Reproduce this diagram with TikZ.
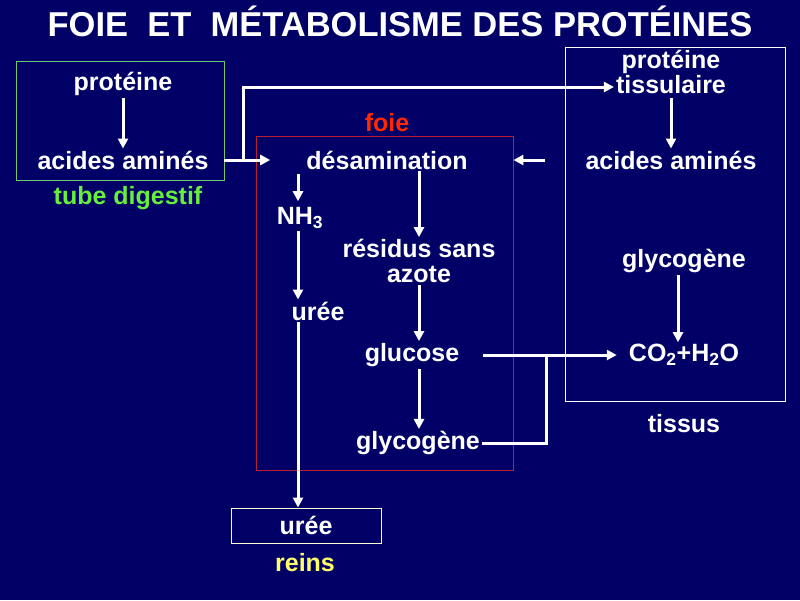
\documentclass[tikz,border=0pt]{standalone}
\usepackage{fontspec}
\setmainfont{Liberation Sans}
\usetikzlibrary{arrows.meta,calc}
\definecolor{bgc}{RGB}{0,0,102}
\definecolor{gtext}{RGB}{102,240,60}
\definecolor{gbox}{RGB}{110,200,110}
\definecolor{rtext}{RGB}{255,40,0}
\definecolor{rbox}{RGB}{190,30,50}
\definecolor{ytext}{RGB}{255,255,102}
\definecolor{ybox}{RGB}{255,255,210}
\tikzset{
  txt/.style={text=white,font=\fontsize{25}{27}\selectfont\bfseries,inner sep=2pt,align=center},
  arr/.style={draw=white,line width=3pt,-{Triangle[length=10pt,width=10pt]}},
  plain/.style={draw=white,line width=3pt},
  region/.style={line width=0.9pt,inner sep=0pt}
}
\begin{document}
\begin{tikzpicture}[x=1pt,y=-1pt]
\fill[bgc] (0,0) rectangle (800,600);
\useasboundingbox (0,0) rectangle (800,600);
% title
\node[text=white,font=\fontsize{34.5}{36}\selectfont\bfseries] (title) at (400,21) {FOIE\ \ ET\ \ MÉTABOLISME DES PROTÉINES};
% region boxes
\node[region,draw=gbox,minimum width=208pt,minimum height=119pt] (gut) at (120,120.5) {};
\node[region,draw=rbox,minimum width=257pt,minimum height=334pt] (liver) at (384.5,303) {};
\node[region,draw=white,minimum width=220pt,minimum height=354pt] (tissue) at (675,224) {};
% labels of regions
\node[txt,text=gtext] (lgut) at (128,198) {tube digestif};
\node[txt,text=rtext] (lliver) at (387,123) {foie};
\node[txt] (ltis) at (684,424) {tissus};
\node[txt,text=ytext] (lkid) at (305,563) {reins};
% gut
\node[txt] (prot1) at (123,84) {protéine};
\node[txt] (aa1) at (123,160) {acides aminés};
% liver
\node[txt] (deam) at (387,160) {désamination};
\node[txt] (nh3) at (300,218) {NH\textsubscript{3}};
\node[txt] (uree1) at (318,311) {urée};
\node[txt,text depth=0pt] (resid) at (419,261) {résidus sans\\[-2pt]azote};
\node[txt] (gluc) at (412,355) {glucose};
\node[txt] (glyc1) at (418,443) {glycogène};
% tissue
\node[txt,align=center] (prot2) at (671,72) {protéine\\[-2pt]tissulaire};
\node[txt] (aa2) at (671,160) {acides aminés};
\node[txt] (glyc2) at (684,261) {glycogène};
\node[txt] (co2) at (684,355) {CO\textsubscript{2}+H\textsubscript{2}O};
% kidney
\node[txt,draw=ybox,line width=0.9pt,minimum width=150pt,minimum height=35pt] (uree2) at (306,525.5) {urée};
% coordinates
\coordinate (br) at (243,160);
\coordinate (jn) at (546,355);
% arrows
\draw[arr] (prot1.south) -- (aa1.north);
\draw[arr,shorten >=34pt] (gut.east |- aa1) -- (deam.west);
\draw[arr] (br) |- ([yshift=-15pt]prot2.west);
\draw[arr,shorten <=2pt] (prot2.south) -- (aa2.north);
\draw[arr,shorten <=38pt] (aa2.west) -- (aa2.west -| liver.east);
\draw[arr,shorten <=3pt,shorten >=4pt] ([xshift=-2pt]nh3.south |- deam.south) -- ([xshift=-2pt]nh3.north);
\draw[arr] ([xshift=-2pt]nh3.south) -- ([xshift=-2pt]nh3.south |- uree1.north);
\draw[arr] ([xshift=-2pt]nh3.south |- uree1.south) -- ([xshift=-2pt]nh3.south |- uree2.north);
\draw[arr] (resid.north |- deam.south) -- (resid.north);
\draw[arr] (resid.south) -- (resid.south |- gluc.north);
\draw[arr] (resid.south |- gluc.south) -- (resid.south |- glyc1.north);
\draw[arr,shorten <=22pt,shorten >=10pt] (gluc.east) -- (co2.west);
\draw[plain] (glyc1.east) -| (jn);
\draw[arr] ([xshift=-6pt]glyc2.south) -- ([xshift=-6pt]co2.north);
\end{tikzpicture}
\end{document}
